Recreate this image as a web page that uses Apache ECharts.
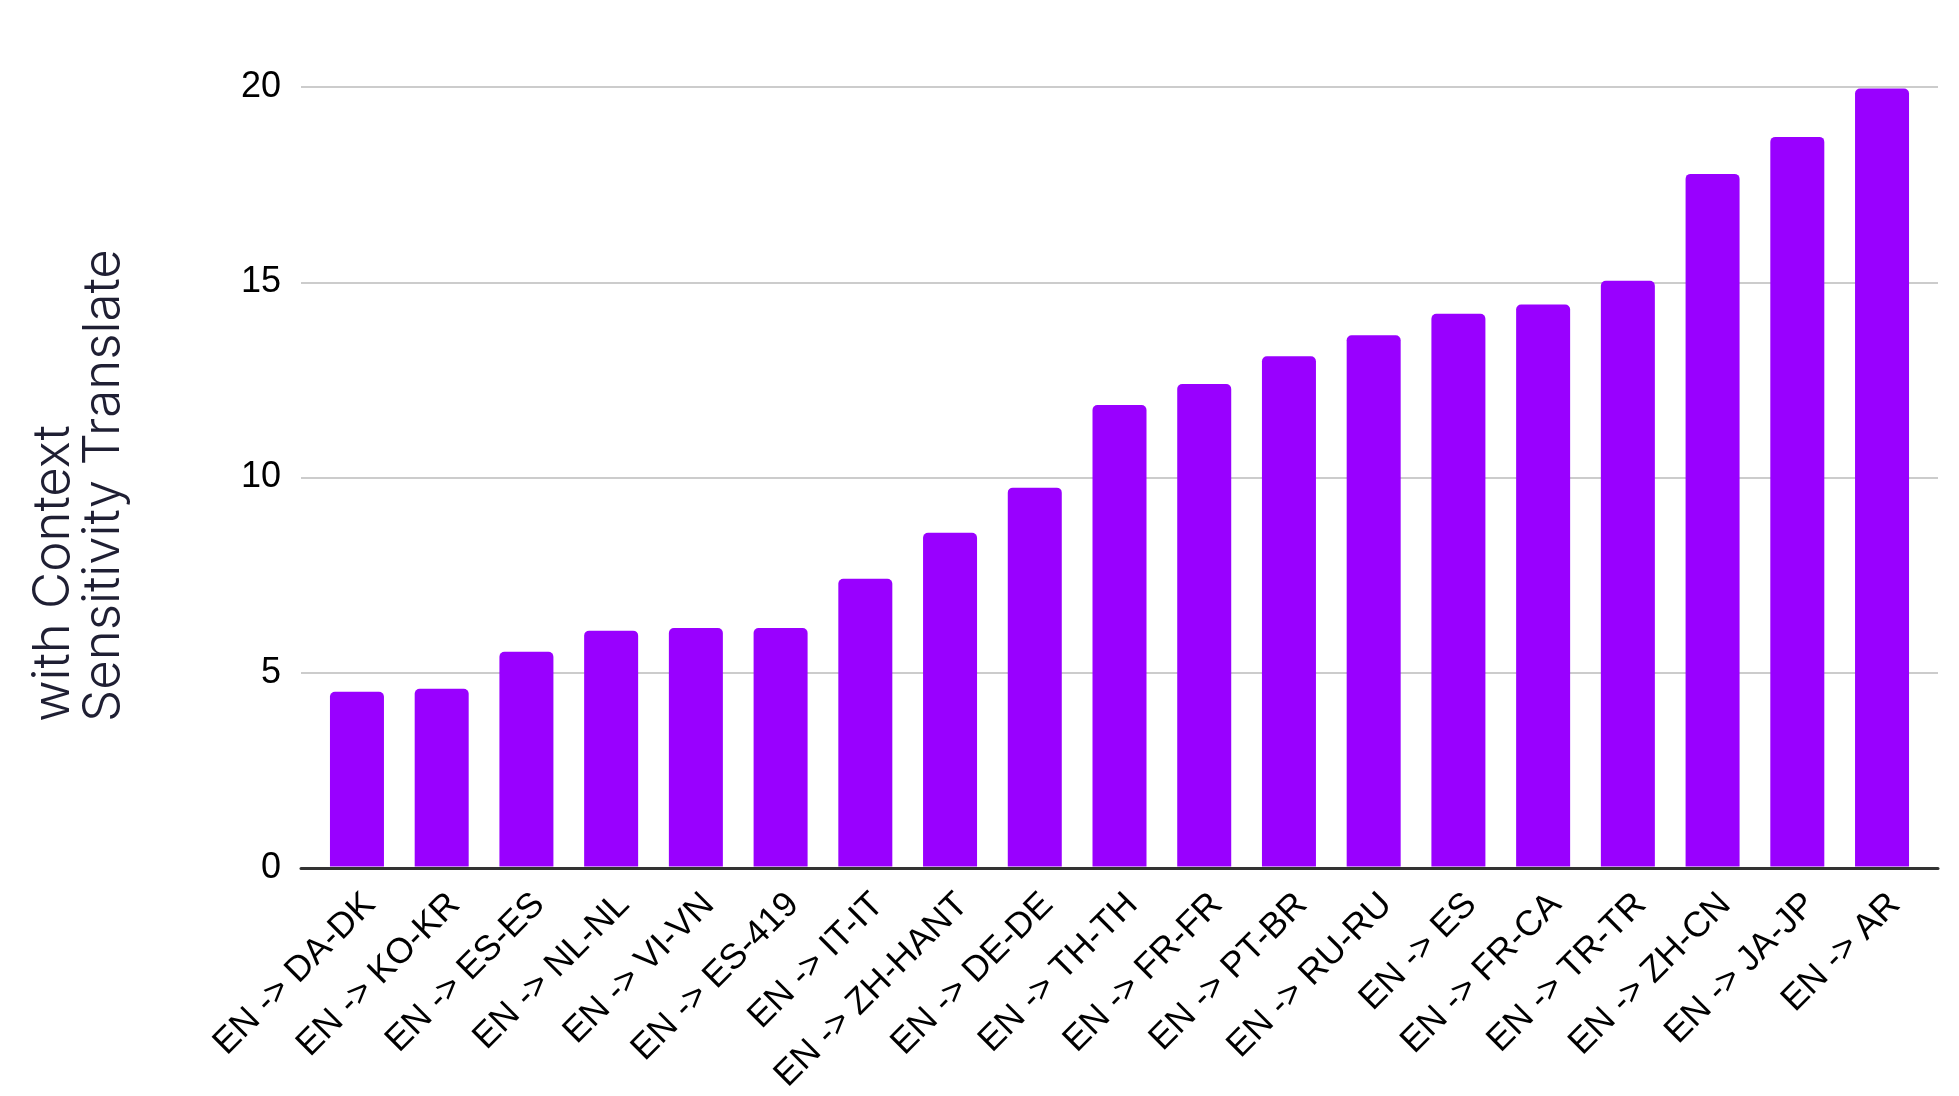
<!DOCTYPE html>
<html>
<head>
<meta charset="utf-8">
<script src="https://cdn.jsdelivr.net/npm/echarts@6/dist/echarts.min.js"></script>
<style>
  html, body { margin: 0; padding: 0; background: #ffffff; }
  #chart { width: 1959px; height: 1096px; }
</style>
</head>
<body>
<div id="chart"></div>
<script>
const categories = [
  'EN -> DA-DK', 'EN -> KO-KR', 'EN -> ES-ES', 'EN -> NL-NL', 'EN -> VI-VN',
  'EN -> ES-419', 'EN -> IT-IT', 'EN -> ZH-HANT', 'EN -> DE-DE', 'EN -> TH-TH',
  'EN -> FR-FR', 'EN -> PT-BR', 'EN -> RU-RU', 'EN -> ES', 'EN -> FR-CA',
  'EN -> TR-TR', 'EN -> ZH-CN', 'EN -> JA-JP', 'EN -> AR'
];
const values = [
  4.48, 4.56, 5.51, 6.05, 6.12,
  6.12, 7.38, 8.56, 9.72, 11.84,
  12.38, 13.09, 13.63, 14.18, 14.42,
  15.03, 17.77, 18.72, 19.96
];
const yTicks = { min: 0, max: 20, interval: 5 };
const axisTitle = 'with Context\nSensitivity Translate';

const chart = echarts.init(document.getElementById('chart'), null, { renderer: 'canvas' });

const option = {
  backgroundColor: '#ffffff',
  animation: false,
  grid: [
    { left: 301, right: 21, top: 87, bottom: 228 },
    { left: 314.6, right: 34.6, top: 87, bottom: 228 }
  ],
  xAxis: [
    {
      gridIndex: 0,
      type: 'category',
      data: categories,
      axisLine: { show: true, lineStyle: { color: '#333333', width: 3 } },
      axisTick: { show: false },
      axisLabel: { show: false },
      splitLine: { show: false }
    },
    {
      gridIndex: 1,
      type: 'category',
      data: categories,
      axisLine: { show: false },
      axisTick: { show: false },
      axisLabel: {
        show: true,
        interval: 0,
        rotate: 45,
        margin: 20,
        verticalAlign: 'top',
        color: '#000000',
        fontFamily: '"Liberation Sans", Arial, sans-serif',
        fontSize: 35.5
      }
    }
  ],
  yAxis: [
    {
      gridIndex: 0,
      type: 'value',
      min: yTicks.min,
      max: yTicks.max,
      interval: yTicks.interval,
      axisLine: { show: false },
      axisTick: { show: false },
      axisLabel: {
        margin: 20,
        color: '#000000',
        fontFamily: '"Liberation Sans", Arial, sans-serif',
        fontSize: 36
      },
      splitLine: { show: true, lineStyle: { color: '#cccccc', width: 2 } }
    },
    {
      gridIndex: 1,
      type: 'value',
      min: yTicks.min,
      max: yTicks.max,
      interval: yTicks.interval,
      show: false,
      splitLine: { show: false }
    }
  ],
  graphic: [
    {
      type: 'text',
      x: 29,
      y: 722,
      rotation: Math.PI / 2,
      style: {
        text: axisTitle,
        fill: '#1f1f33',
        font: '300 51px Inter, "Open Sans", sans-serif',
        lineHeight: 50,
        textAlign: 'left',
        textVerticalAlign: 'top'
      }
    }
  ],
  series: [
    {
      type: 'bar',
      xAxisIndex: 1,
      yAxisIndex: 1,
      data: values,
      barWidth: 54,
      itemStyle: { color: '#9900ff', borderRadius: [5, 5, 0, 0] }
    }
  ]
};

chart.setOption(option);
</script>
</body>
</html>
